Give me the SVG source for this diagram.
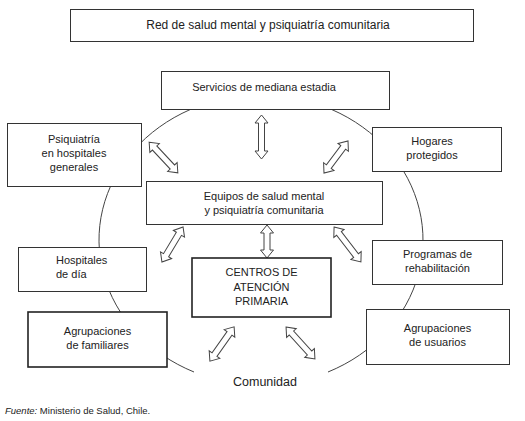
<svg xmlns="http://www.w3.org/2000/svg" width="525" height="421" viewBox="0 0 525 421">
<style>
.box{fill:#fff;stroke:#333;stroke-width:1}
.bold{fill:#fff;stroke:#222;stroke-width:1.6}
.t{font-family:"Liberation Sans",Arial,sans-serif;font-size:11px;fill:#222;text-anchor:middle}
.arr{fill:#fff;stroke:#444;stroke-width:1;stroke-linejoin:miter}
.ring{fill:none;stroke:#444;stroke-width:1}
</style>
<defs>
<path id="a33" d="M-16.5 0L-8.5 -6.5L-8.5 -3L8.5 -3L8.5 -6.5L16.5 0L8.5 6.5L8.5 3L-8.5 3L-8.5 6.5Z"/>
<path id="a40" d="M-20 0L-12 -6.5L-12 -3L12 -3L12 -6.5L20 0L12 6.5L12 3L-12 3L-12 6.5Z"/>
<path id="a41" d="M-20.5 0L-12.5 -6.5L-12.5 -3L12.5 -3L12.5 -6.5L20.5 0L12.5 6.5L12.5 3L-12.5 3L-12.5 6.5Z"/>
<path id="a42" d="M-21 0L-13 -6.5L-13 -3L13 -3L13 -6.5L21 0L13 6.5L13 3L-13 3L-13 6.5Z"/>
<path id="a43" d="M-21.5 0L-13.5 -6.5L-13.5 -3L13.5 -3L13.5 -6.5L21.5 0L13.5 6.5L13.5 3L-13.5 3L-13.5 6.5Z"/>
<path id="a44" d="M-22 0L-14 -6.5L-14 -3L14 -3L14 -6.5L22 0L14 6.5L14 3L-14 3L-14 6.5Z"/>
</defs>
<rect width="525" height="421" fill="#fff"/>

<g id="title">
<rect class="box" x="70.5" y="9.5" width="403" height="32"/>
<text class="t" x="268" y="29" style="font-size:12px">Red de salud mental y psiquiatría comunitaria</text>
</g>

<g id="connectors">
<path class="ring" d="M328 372A162 145 0 1 0 194 372"/>
<use href="#a44" class="arr" transform="translate(261.5 137) rotate(90)"/>
<use href="#a42" class="arr" transform="translate(163.5 157.5) rotate(46.9)"/>
<use href="#a40" class="arr" transform="translate(336 157) rotate(126.9)"/>
<use href="#a41" class="arr" transform="translate(172.5 244.5) rotate(121)"/>
<use href="#a33" class="arr" transform="translate(267 241.5) rotate(90)"/>
<use href="#a44" class="arr" transform="translate(347.5 244.5) rotate(52.4)"/>
<use href="#a42" class="arr" transform="translate(222 344) rotate(125.2)"/>
<use href="#a43" class="arr" transform="translate(300.5 343) rotate(47.8)"/>
</g>

<g id="servicios">
<rect class="box" x="161.5" y="71.5" width="228" height="38"/>
<text class="t" x="264" y="91">Servicios de mediana estadia</text>
</g>

<g id="psiquiatria">
<rect class="box" x="7.5" y="123.5" width="134" height="63"/>
<text class="t" x="74"><tspan x="74" y="143">Psiquiatría</tspan><tspan x="74" y="157">en hospitales</tspan><tspan x="74" y="171">generales</tspan></text>
</g>

<g id="hogares">
<rect class="box" x="372.5" y="127.5" width="129" height="44"/>
<text class="t"><tspan x="432" y="145">Hogares</tspan><tspan x="432" y="159">protegidos</tspan></text>
</g>

<g id="equipos">
<rect class="box" x="146.5" y="181.5" width="236" height="43"/>
<text class="t"><tspan x="264" y="200">Equipos de salud mental</tspan><tspan x="264" y="214">y psiquiatría comunitaria</tspan></text>
</g>

<g id="hospitales">
<rect class="box" x="18.5" y="247.5" width="128" height="44"/>
<text class="t" style="text-anchor:start"><tspan x="56" y="264">Hospitales</tspan><tspan x="56" y="278">de día</tspan></text>
</g>

<g id="centros">
<rect class="bold" x="192" y="258" width="139" height="59"/>
<text class="t"><tspan x="261.5" y="276">CENTROS DE</tspan><tspan x="261.5" y="290.5">ATENCIÓN</tspan><tspan x="261.5" y="305">PRIMARIA</tspan></text>
</g>

<g id="programas">
<rect class="box" x="372.5" y="240.5" width="130" height="44"/>
<text class="t"><tspan x="437.5" y="258">Programas de</tspan><tspan x="437.5" y="272">rehabilitación</tspan></text>
</g>

<g id="familiares">
<rect class="bold" x="28" y="312" width="139" height="55"/>
<text class="t"><tspan x="97.5" y="335">Agrupaciones</tspan><tspan x="97.5" y="349">de familiares</tspan></text>
</g>

<g id="usuarios">
<rect class="box" x="366.5" y="309.5" width="143" height="55"/>
<text class="t"><tspan x="437.5" y="332">Agrupaciones</tspan><tspan x="437.5" y="346">de usuarios</tspan></text>
</g>

<g id="comunidad">
<text class="t" x="265" y="386" style="font-size:12.5px">Comunidad</text>
</g>

<text class="t" x="5" y="414" style="font-size:9.5px;text-anchor:start"><tspan font-style="italic">Fuente:</tspan> Ministerio de Salud, Chile.</text>
</svg>
